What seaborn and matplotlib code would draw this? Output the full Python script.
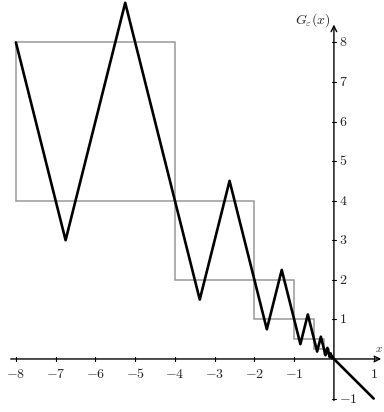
import matplotlib
matplotlib.use("Agg")
import matplotlib.pyplot as plt
import seaborn as sns
import pandas as pd
from matplotlib.patches import Rectangle

# zigzag graph of G_eps(x) (vertices, left to right)
zig_x = [-8, -6.75, -5.25, -4, -3.375, -2.625, -2, -1.6875, -1.3125, -1,
         -0.84375, -0.65625, -0.5, -0.421875, -0.328125, -0.25,
         -0.2109, -0.1641, -0.125, -0.1055, -0.082, -0.0625,
         -0.0527, -0.041, -0.03125, 0, 1]
zig_y = [8, 3, 9, 4, 1.5, 4.5, 2, 0.75, 2.25, 1,
         0.375, 1.125, 0.5, 0.1875, 0.5625, 0.25,
         0.094, 0.281, 0.125, 0.047, 0.141, 0.0625,
         0.023, 0.07, 0.03125, 0, -1]

# gray boxes
box_left = [-8, -4, -2, -1, -0.5, -0.25, -0.125]
box_right = [-4, -2, -1, -0.5, -0.25, -0.125, -0.0625]
box_bottom = [4, 2, 1, 0.5, 0.25, 0.125, 0.0625]
box_top = [8, 4, 2, 1, 0.5, 0.25, 0.125]

x_ticks = [-8, -7, -6, -5, -4, -3, -2, -1, 1]
y_ticks = [-1, 1, 2, 3, 4, 5, 6, 7, 8]

sns.set_style("white")
plt.rcParams["mathtext.fontset"] = "cm"
plt.rcParams["font.family"] = ["DejaVu Serif"]

fig = plt.figure(figsize=(3.84, 4.12), dpi=100)
ax = fig.add_axes([0, 0, 1, 1])
ax.set_xlim(-8.40, 1.26)
ax.set_ylim(-1.34, 9.07)

for l, r, b, t in zip(box_left, box_right, box_bottom, box_top):
    ax.add_patch(Rectangle((l, b), r - l, t - b, fill=False,
                           edgecolor="#999999", lw=1.1, zorder=2))

df = pd.DataFrame({"x": zig_x, "y": zig_y})
sns.lineplot(data=df, x="x", y="y", sort=False, estimator=None,
             color="black", lw=1.9, ax=ax, zorder=4)
ax.axis("off")

# axes with arrows
ax.annotate("", xy=(1.26, 0), xytext=(-8.2, 0),
            arrowprops=dict(arrowstyle="->", lw=1.0, color="black"), zorder=3)
ax.annotate("", xy=(0, 8.52), xytext=(0, -1.12),
            arrowprops=dict(arrowstyle="->", lw=1.0, color="black"), zorder=3)

for t in x_ticks:
    ax.plot([t, t], [-0.05, 0.05], color="black", lw=0.8, zorder=3)
    ax.text(t, -0.2, f"${t}$", ha="center", va="top", fontsize=10)
for t in y_ticks:
    ax.plot([-0.05, 0.05], [t, t], color="black", lw=0.8, zorder=3)
    ax.text(0.12, t, f"${t}$", ha="left", va="center", fontsize=10)

ax.text(1.04, 0.12, "$x$", ha="left", va="bottom", fontsize=8)
ax.text(-0.08, 8.55, r"$G_\varepsilon(x)$", ha="right", va="center", fontsize=10)

fig.savefig("out.png", dpi=100)
